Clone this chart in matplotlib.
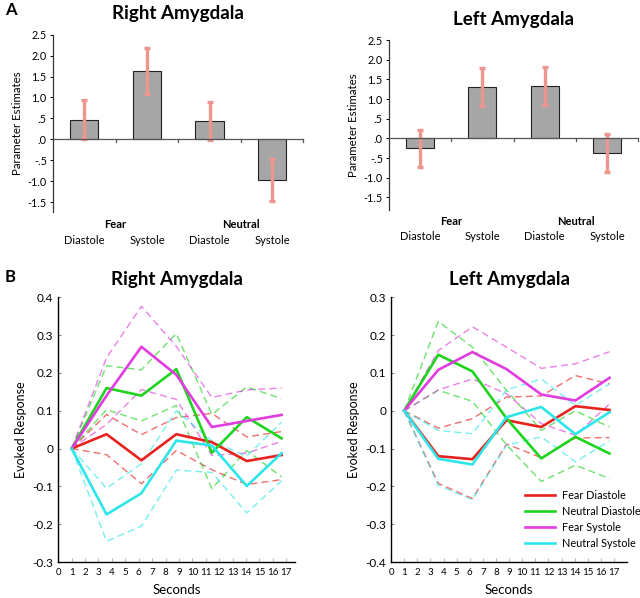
import numpy as np
import matplotlib
matplotlib.use('Agg')
from matplotlib import pyplot as plt

plt.rcParams['font.family'] = ['Lato', 'DejaVu Sans']

###############################################################################
# Data
###############################################################################
bar_groups = ['Fear', 'Neutral']
bar_labels = ['Diastole', 'Systole', 'Diastole', 'Systole']
bar_yticks = [2.5, 2.0, 1.5, 1.0, 0.5, 0.0, -0.5, -1.0, -1.5]
bar_yticklabels = ['2.5', '2.0', '1.5', '1.0', '.5', '.0', '-.5', '-1.0', '-1.5']

right_bar = [0.47, 1.63, 0.43, -0.97]
right_err = [0.47, 0.55, 0.45, 0.50]
left_bar = [-0.25, 1.31, 1.33, -0.38]
left_err = [0.47, 0.49, 0.48, 0.48]

seconds = [1, 3.6, 6.2, 8.8, 11.45, 14.05, 16.65]
series_names = ['Fear Diastole', 'Neutral Diastole', 'Fear Systole', 'Neutral Systole']

# right amygdala time courses (mean, upper, lower)
r_fear_dia = [0, 0.038, -0.031, 0.038, 0.017, -0.033, -0.017]
r_fear_dia_hi = [0, 0.09, 0.037, 0.082, 0.093, 0.031, 0.045]
r_fear_dia_lo = [0, -0.016, -0.093, -0.005, -0.056, -0.095, -0.082]
r_neu_dia = [0, 0.16, 0.14, 0.21, -0.011, 0.083, 0.027]
r_neu_dia_hi = [0, 0.219, 0.208, 0.304, 0.09, 0.163, 0.132]
r_neu_dia_lo = [0, 0.103, 0.073, 0.114, -0.106, -0.005, -0.075]
r_fear_sys = [0, 0.14, 0.269, 0.195, 0.057, 0.073, 0.089]
r_fear_sys_hi = [0, 0.24, 0.376, 0.27, 0.135, 0.155, 0.16]
r_fear_sys_lo = [0, 0.064, 0.156, 0.13, -0.018, -0.012, 0.019]
r_neu_sys = [0, -0.174, -0.118, 0.021, 0.008, -0.099, -0.012]
r_neu_sys_hi = [0, -0.105, -0.04, 0.10, 0.02, -0.02, 0.07]
r_neu_sys_lo = [0, -0.245, -0.205, -0.057, -0.063, -0.17, -0.085]

# left amygdala time courses
l_fear_dia = [0, -0.12, -0.128, -0.025, -0.043, 0.012, 0.002]
l_fear_dia_hi = [0, -0.046, -0.021, 0.036, 0.039, 0.093, 0.071]
l_fear_dia_lo = [0, -0.192, -0.232, -0.088, -0.124, -0.072, -0.071]
l_neu_dia = [0, 0.148, 0.104, -0.02, -0.126, -0.069, -0.113]
l_neu_dia_hi = [0, 0.236, 0.168, 0.054, -0.052, 0.0, -0.043]
l_neu_dia_lo = [0, 0.054, 0.025, -0.09, -0.187, -0.144, -0.179]
l_fear_sys = [0, 0.108, 0.155, 0.11, 0.043, 0.027, 0.087]
l_fear_sys_hi = [0, 0.159, 0.222, 0.168, 0.112, 0.124, 0.156]
l_fear_sys_lo = [0, 0.055, 0.084, 0.045, -0.034, -0.065, 0.018]
l_neu_sys = [0, -0.127, -0.142, -0.017, 0.01, -0.062, -0.004]
l_neu_sys_hi = [0, -0.052, -0.061, 0.055, 0.084, 0.014, 0.071]
l_neu_sys_lo = [0, -0.197, -0.235, -0.091, -0.069, -0.135, -0.08]

colors = ['#E8221E', '#1ED41E', '#E03CE0', '#2EE6EA']

###############################################################################
# Figure
###############################################################################
fig = plt.figure(figsize=(6.4, 5.98), dpi=100)


def bar_panel(rect, vals, errs, title, ybottom, y_grp, y_lab):
    ax = fig.add_axes(rect)
    x = np.arange(len(vals))
    ax.bar(x, vals, width=0.45, color='#A6A6A6', edgecolor='#222222', linewidth=0.8, zorder=2)
    ax.errorbar(x, vals, yerr=errs, fmt='none', ecolor='#EE9590', elinewidth=2.4,
                capsize=2.2, capthick=2.4, zorder=3)
    ax.set_xlim(-0.5, 3.5)
    ax.set_ylim(ybottom, 2.5)
    ax.axhline(0, color='#555555', linewidth=0.9, zorder=4)
    for xt in [0.5, 1.5, 2.5, 3.5]:
        ax.plot([xt, xt], [0, -0.06], color='#555555', linewidth=0.9, clip_on=False, zorder=4)
    for s in ['top', 'right', 'bottom']:
        ax.spines[s].set_visible(False)
    ax.spines['left'].set_linewidth(0.9)
    ax.spines['left'].set_color('#333333')
    ax.set_xticks([])
    ax.set_yticks(bar_yticks)
    ax.set_yticklabels(bar_yticklabels, fontsize=7.8)
    ax.tick_params(axis='y', length=2.5, width=0.7, pad=2)
    ax.set_ylabel('Parameter Estimates', fontsize=8.3, labelpad=3)
    ax.set_title(title, fontsize=13.5, fontweight='bold', pad=11)
    for i, lab in enumerate(bar_labels):
        ax.text(i, y_lab, lab, transform=ax.get_xaxis_transform(), ha='center', va='center', fontsize=8)
    for g, name in enumerate(bar_groups):
        ax.text(2 * g + 0.5, y_grp, name, transform=ax.get_xaxis_transform(), ha='center',
                va='center', fontsize=8, fontweight='bold')
    return ax


def line_panel(rect, series, title, ylim, yticks, yticklabels, xmax, legend=False):
    ax = fig.add_axes(rect)
    for i, (mean, hi, lo) in enumerate(series):
        ax.plot(seconds, hi, color=colors[i], linewidth=1.0, linestyle=(0, (5, 3)), alpha=0.65)
        ax.plot(seconds, lo, color=colors[i], linewidth=1.0, linestyle=(0, (5, 3)), alpha=0.65)
    handles = []
    for i, (mean, hi, lo) in enumerate(series):
        h, = ax.plot(seconds, mean, color=colors[i], linewidth=1.9, label=series_names[i])
        handles.append(h)
    ax.set_xlim(0, xmax)
    ax.set_ylim(*ylim)
    ax.set_xticks(range(0, 18))
    ax.set_xticklabels([str(i) for i in range(0, 18)], fontsize=7)
    ax.tick_params(axis='x', direction='in', length=3, color='#BBBBBB', pad=4)
    ax.set_yticks(yticks)
    ax.set_yticklabels(yticklabels, fontsize=8.5)
    ax.tick_params(axis='y', direction='in', length=2, color='#888888')
    for s in ['top', 'right']:
        ax.spines[s].set_visible(False)
    ax.spines['left'].set_linewidth(1.0)
    ax.spines['bottom'].set_linewidth(1.0)
    ax.set_xlabel('Seconds', fontsize=9.5, labelpad=5)
    ax.set_ylabel('Evoked Response', fontsize=9, labelpad=4)
    ax.set_title(title, fontsize=13.5, fontweight='bold', pad=9)
    if legend:
        ax.legend(handles=handles, loc='lower right', bbox_to_anchor=(1.075, 0.035), frameon=False,
                  fontsize=7.8, handlelength=2.8, handletextpad=0.6, labelspacing=0.45,
                  borderaxespad=0)
    return ax


bar_panel([0.083, 0.646, 0.391, 0.296], right_bar, right_err, 'Right Amygdala', -1.73,
          -0.073, -0.164)
bar_panel([0.608, 0.649, 0.389, 0.284], left_bar, left_err, 'Left Amygdala', -1.82,
          -0.07, -0.157)

right_series = [(r_fear_dia, r_fear_dia_hi, r_fear_dia_lo),
                (r_neu_dia, r_neu_dia_hi, r_neu_dia_lo),
                (r_fear_sys, r_fear_sys_hi, r_fear_sys_lo),
                (r_neu_sys, r_neu_sys_hi, r_neu_sys_lo)]
left_series = [(l_fear_dia, l_fear_dia_hi, l_fear_dia_lo),
               (l_neu_dia, l_neu_dia_hi, l_neu_dia_lo),
               (l_fear_sys, l_fear_sys_hi, l_fear_sys_lo),
               (l_neu_sys, l_neu_sys_hi, l_neu_sys_lo)]

line_panel([0.091, 0.060, 0.370, 0.443], right_series, 'Right Amygdala', (-0.3, 0.4),
           [0.4, 0.3, 0.2, 0.1, 0, -0.1, -0.2, -0.3],
           ['0.4', '0.3', '0.2', '0.1', '0', '-0.1', '-0.2', '-0.3'], 17.65)
line_panel([0.611, 0.060, 0.369, 0.443], left_series, 'Left Amygdala', (-0.4, 0.3),
           [0.3, 0.2, 0.1, 0, -0.1, -0.2, -0.3, -0.4],
           ['0.3', '0.2', '0.1', '0', '-0.1', '-0.2', '-0.3', '-0.4'], 18.0, legend=True)

fig.text(0.008, 0.983, 'A', fontsize=12, fontweight='bold', va='center')
fig.text(0.008, 0.537, 'B', fontsize=12, fontweight='bold', va='center')

plt.savefig('out.png', dpi=100)
